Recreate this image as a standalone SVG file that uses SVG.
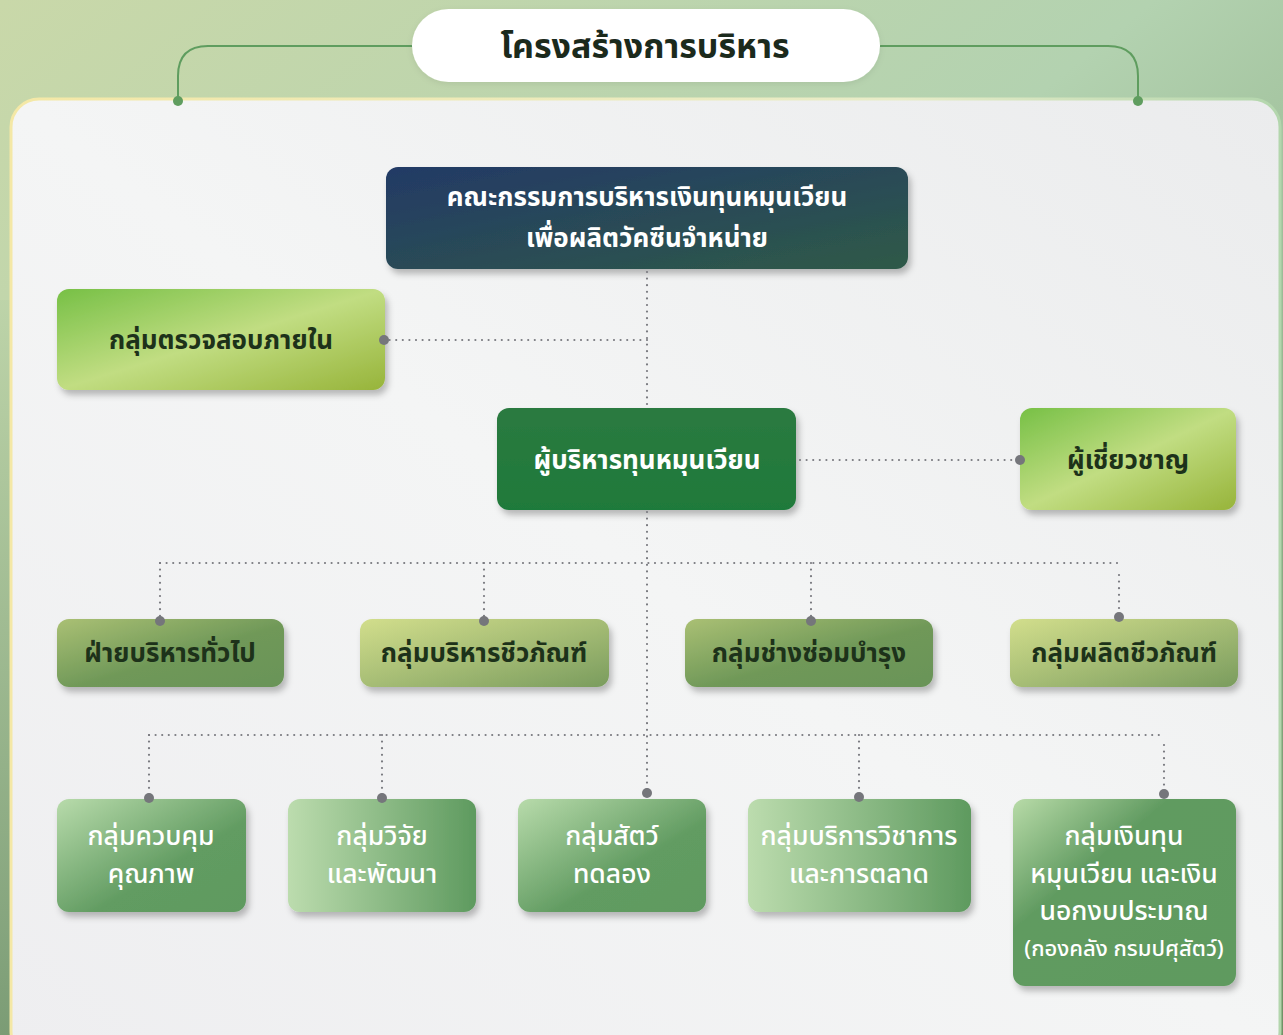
<svg xmlns="http://www.w3.org/2000/svg" width="1283" height="1035" viewBox="0 0 1283 1035">
<defs>
  <linearGradient id="bg" x1="0" y1="0" x2="1" y2="1">
    <stop offset="0" stop-color="#c9d8a9"/>
    <stop offset="0.45" stop-color="#b3d2b0"/>
    <stop offset="1" stop-color="#6e9265"/>
  </linearGradient>
  <linearGradient id="bgL" x1="0" y1="0" x2="0" y2="1">
    <stop offset="0" stop-color="#bcd3a8"/>
    <stop offset="1" stop-color="#6f9068"/>
  </linearGradient>
  <linearGradient id="panel" x1="0" y1="1" x2="1" y2="0">
    <stop offset="0" stop-color="#eeeef0"/>
    <stop offset="0.5" stop-color="#f4f5f5"/>
    <stop offset="1" stop-color="#ebeced"/>
  </linearGradient>
  <linearGradient id="panelStroke" x1="0" y1="0" x2="1" y2="0">
    <stop offset="0" stop-color="#f4e8a6"/>
    <stop offset="0.7" stop-color="#e8ecc8"/>
    <stop offset="1" stop-color="#b3d6ad"/>
  </linearGradient>
  <linearGradient id="gTop" x1="0" y1="0" x2="1" y2="1">
    <stop offset="0" stop-color="#233a66"/>
    <stop offset="1" stop-color="#2f5a48"/>
  </linearGradient>
  <linearGradient id="gLime" x1="0" y1="0" x2="1" y2="1">
    <stop offset="0" stop-color="#77c046"/>
    <stop offset="0.5" stop-color="#c1dd82"/>
    <stop offset="1" stop-color="#97b43a"/>
  </linearGradient>
  <linearGradient id="gMgr" x1="0" y1="0" x2="0" y2="1">
    <stop offset="0" stop-color="#2b7a40"/>
    <stop offset="1" stop-color="#1f7a3a"/>
  </linearGradient>
  <linearGradient id="gOlive" x1="0" y1="0" x2="1" y2="1">
    <stop offset="0" stop-color="#aac074"/>
    <stop offset="0.55" stop-color="#6f9858"/>
    <stop offset="1" stop-color="#6a9458"/>
  </linearGradient>
  <linearGradient id="gOlive2" x1="0" y1="0" x2="1" y2="1">
    <stop offset="0" stop-color="#d2de8c"/>
    <stop offset="1" stop-color="#7a9c5e"/>
  </linearGradient>
  <linearGradient id="gGreenD" x1="0" y1="0" x2="1" y2="1">
    <stop offset="0" stop-color="#b8dbab"/>
    <stop offset="0.6" stop-color="#629c62"/>
    <stop offset="1" stop-color="#5f9a60"/>
  </linearGradient>
  <linearGradient id="gGreenH" x1="0" y1="0" x2="1" y2="0">
    <stop offset="0" stop-color="#bcdcae"/>
    <stop offset="1" stop-color="#5e9a5f"/>
  </linearGradient>
  <linearGradient id="gGreenF" x1="0" y1="0" x2="1" y2="1">
    <stop offset="0" stop-color="#b8dba8"/>
    <stop offset="0.35" stop-color="#619b61"/>
    <stop offset="1" stop-color="#5e9a5e"/>
  </linearGradient>
  <filter id="sh" x="-10%" y="-10%" width="125%" height="135%">
    <feDropShadow dx="3" dy="5" stdDeviation="3" flood-color="#000" flood-opacity="0.25"/>
  </filter>
  <filter id="sh2" x="-10%" y="-20%" width="120%" height="150%">
    <feDropShadow dx="0" dy="2" stdDeviation="3" flood-color="#000" flood-opacity="0.08"/>
  </filter>
</defs>
<style>
  text { font-family: "Noto Sans Thai", "Noto Sans", "Liberation Sans", sans-serif; text-anchor: middle; }
  .dark { fill: #1d321a; font-weight: bold; font-size: 26px; }
  .wb { fill: #ffffff; font-weight: bold; font-size: 26px; }
  .wm { fill: #ffffff; font-weight: 500; font-size: 26.5px; }
  .ws { fill: #ffffff; font-weight: 500; font-size: 22px; }
  .dot { stroke: #7a7b80; stroke-width: 2.2; stroke-linecap: round; stroke-dasharray: 0 6.6; fill: none; }
  .pin { fill: #75767b; }
  .gl { stroke: #5f9d5f; stroke-width: 2; fill: none; }
  .gd { fill: #5f9d5f; }
</style>

<rect x="0" y="0" width="1283" height="1035" fill="url(#bg)"/>
<rect x="0" y="300" width="20" height="735" fill="url(#bgL)" opacity="0.8"/>

<g id="frame">
  <path class="gl" d="M412,46 H208 Q178,46 178,76 V100"/>
  <path class="gl" d="M880,46 H1108 Q1138,46 1138,76 V100"/>
  <rect x="11" y="99" width="1269" height="960" rx="28" fill="url(#panel)" stroke="url(#panelStroke)" stroke-width="3"/>
  <circle class="gd" cx="178" cy="101" r="5"/>
  <circle class="gd" cx="1138" cy="101" r="5"/>
</g>

<g id="title">
  <rect x="412" y="9" width="468" height="73" rx="36.5" fill="#ffffff" filter="url(#sh2)"/>
  <text x="645" y="58" style="font-size:34px;font-weight:bold;fill:#1b2a1c">โครงสร้างการบริหาร</text>
</g>

<g id="n-board">
  <rect x="386" y="167" width="522" height="102" rx="12" fill="url(#gTop)" filter="url(#sh)"/>
  <text class="wb" x="647" y="206">คณะกรรมการบริหารเงินทุนหมุนเวียน</text>
  <text class="wb" x="647" y="247">เพื่อผลิตวัคซีนจำหน่าย</text>
</g>
<g id="n-audit">
  <rect x="57" y="289" width="328" height="101" rx="12" fill="url(#gLime)" filter="url(#sh)"/>
  <text class="dark" x="221" y="349">กลุ่มตรวจสอบภายใน</text>
</g>
<g id="n-manager">
  <rect x="497" y="408" width="299" height="102" rx="12" fill="url(#gMgr)" filter="url(#sh)"/>
  <text class="wb" x="647" y="469">ผู้บริหารทุนหมุนเวียน</text>
</g>
<g id="n-expert">
  <rect x="1020" y="408" width="216" height="102" rx="12" fill="url(#gLime)" filter="url(#sh)"/>
  <text class="dark" x="1128" y="469">ผู้เชี่ยวชาญ</text>
</g>

<g id="n-admin">
  <rect x="57" y="619" width="227" height="68" rx="12" fill="url(#gOlive)" filter="url(#sh)"/>
  <text class="dark" x="170" y="662">ฝ่ายบริหารทั่วไป</text>
</g>
<g id="n-bioadmin">
  <rect x="360" y="619" width="249" height="68" rx="12" fill="url(#gOlive2)" filter="url(#sh)"/>
  <text class="dark" x="484" y="662">กลุ่มบริหารชีวภัณฑ์</text>
</g>
<g id="n-maint">
  <rect x="685" y="619" width="248" height="68" rx="12" fill="url(#gOlive)" filter="url(#sh)"/>
  <text class="dark" x="809" y="662">กลุ่มช่างซ่อมบำรุง</text>
</g>
<g id="n-bioprod">
  <rect x="1010" y="619" width="228" height="68" rx="12" fill="url(#gOlive2)" filter="url(#sh)"/>
  <text class="dark" x="1124" y="662">กลุ่มผลิตชีวภัณฑ์</text>
</g>

<g id="n-qc">
  <rect x="57" y="799" width="189" height="113" rx="12" fill="url(#gGreenD)" filter="url(#sh)"/>
  <text class="wm" x="151" y="845">กลุ่มควบคุม</text>
  <text class="wm" x="151" y="883">คุณภาพ</text>
</g>
<g id="n-rd">
  <rect x="288" y="799" width="188" height="113" rx="12" fill="url(#gGreenH)" filter="url(#sh)"/>
  <text class="wm" x="382" y="845">กลุ่มวิจัย</text>
  <text class="wm" x="382" y="883">และพัฒนา</text>
</g>
<g id="n-animal">
  <rect x="518" y="799" width="188" height="113" rx="12" fill="url(#gGreenD)" filter="url(#sh)"/>
  <text class="wm" x="612" y="845">กลุ่มสัตว์</text>
  <text class="wm" x="612" y="883">ทดลอง</text>
</g>
<g id="n-service">
  <rect x="748" y="799" width="223" height="113" rx="12" fill="url(#gGreenH)" filter="url(#sh)"/>
  <text class="wm" x="859" y="845">กลุ่มบริการวิชาการ</text>
  <text class="wm" x="859" y="883">และการตลาด</text>
</g>
<g id="n-fund">
  <rect x="1013" y="799" width="223" height="187" rx="12" fill="url(#gGreenF)" filter="url(#sh)"/>
  <text class="wm" x="1124" y="845">กลุ่มเงินทุน</text>
  <text class="wm" x="1124" y="883">หมุนเวียน และเงิน</text>
  <text class="wm" x="1124" y="920">นอกงบประมาณ</text>
  <text class="ws" x="1124" y="956">(กองคลัง กรมปศุสัตว์)</text>
</g>

<g id="connectors">
  <path class="dot" d="M647,272 V408"/>
  <path class="dot" d="M647,340 H388"/>
  <path class="dot" d="M800,460 H1018"/>
  <path class="dot" d="M647,512 V790"/>
  <path class="dot" d="M160,563 H1118"/>
  <path class="dot" d="M160,563 V618"/>
  <path class="dot" d="M484,563 V618"/>
  <path class="dot" d="M811,563 V618"/>
  <path class="dot" d="M1119,575 V614"/>
  <path class="dot" d="M149,735 H1162"/>
  <path class="dot" d="M149,735 V795"/>
  <path class="dot" d="M382,735 V795"/>
  <path class="dot" d="M859,735 V795"/>
  <path class="dot" d="M1164,745 V791"/>
  <circle class="pin" cx="384" cy="340" r="5"/>
  <circle class="pin" cx="1020" cy="460" r="5"/>
  <circle class="pin" cx="160" cy="621" r="5"/>
  <circle class="pin" cx="484" cy="621" r="5"/>
  <circle class="pin" cx="811" cy="621" r="5"/>
  <circle class="pin" cx="1119" cy="617" r="5"/>
  <circle class="pin" cx="149" cy="798" r="5"/>
  <circle class="pin" cx="382" cy="798" r="5"/>
  <circle class="pin" cx="647" cy="793" r="5"/>
  <circle class="pin" cx="859" cy="797" r="5"/>
  <circle class="pin" cx="1164" cy="794" r="5"/>
</g>
</svg>
